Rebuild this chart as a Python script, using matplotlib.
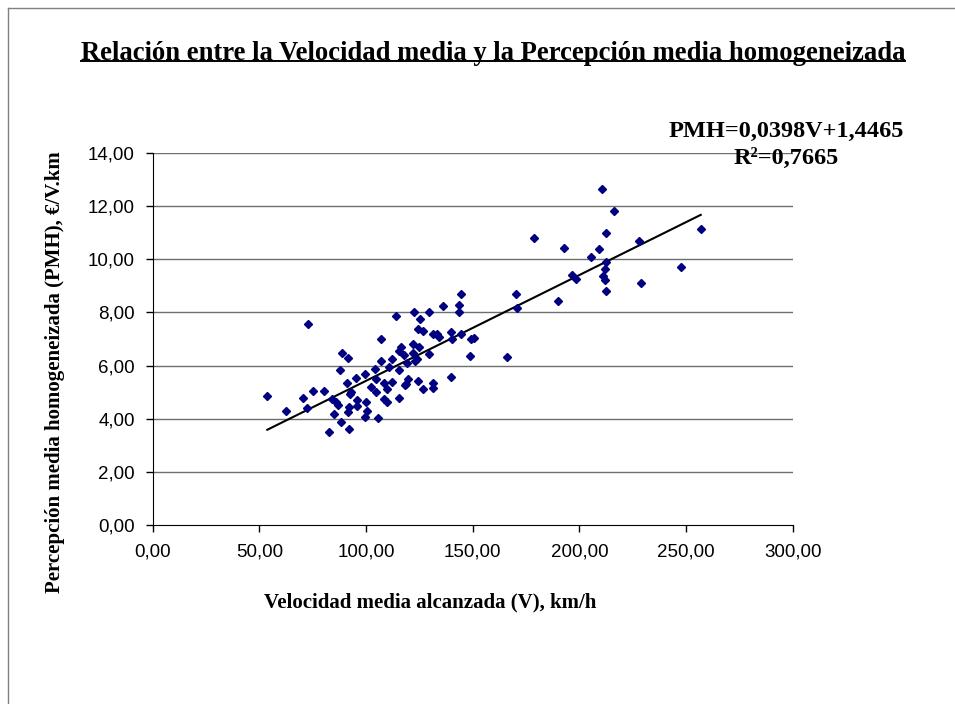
import matplotlib
matplotlib.use("Agg")
import matplotlib.pyplot as plt
import numpy as np
from matplotlib.lines import Line2D
from matplotlib.ticker import FuncFormatter

# Velocidad media (km/h) y PMH (€/V.km)
velocidad = [
    53.7, 72.9, 62.5, 70.6, 72.5, 75.3, 80.4, 82.8, 84.2, 85.1,
    85.9, 86.9, 88.1, 88.7, 87.8, 91.4, 92.2, 91.2, 92.5, 93.1,
    92.2, 91.5, 95.3, 95.6, 95.6, 99.5, 100.0, 100.6, 99.5, 105.5,
    102.3, 104.5, 104.3, 107.0, 107.0, 108.6, 109.7, 108.4, 109.7, 104.5,
    112.0, 112.0, 114.0, 115.6, 115.6, 115.6, 110.9, 116.4, 117.9, 119.1,
    119.8, 118.7, 118.3, 121.9, 125.0, 121.9, 123.8, 123.0, 122.6, 125.3,
    124.5, 126.8, 129.7, 129.7, 124.5, 126.8, 131.3, 131.5, 131.3, 133.1,
    134.3, 136.2, 143.7, 143.7, 144.5, 139.8, 140.3, 144.5, 149.2, 150.7,
    148.9, 139.8, 166.1, 170.3, 170.6, 178.9, 190.0, 192.8, 196.6, 198.4,
    205.6, 209.1, 210.5, 211.2, 212.0, 212.3, 212.2, 212.5, 212.3, 216.1,
    228.0, 228.8, 247.8, 256.9,
]
pmh = [
    4.86, 7.55, 4.28, 4.79, 4.39, 5.03, 5.03, 3.50, 4.73, 4.17,
    4.62, 4.53, 3.88, 6.46, 5.83, 6.30, 3.62, 5.33, 4.93, 5.02,
    4.43, 4.26, 5.52, 4.72, 4.47, 5.68, 4.63, 4.30, 4.08, 4.02,
    5.18, 4.99, 5.87, 7.00, 6.18, 5.33, 5.12, 4.75, 4.63, 5.48,
    6.24, 5.37, 7.87, 6.55, 5.83, 4.79, 5.96, 6.71, 6.40, 6.09,
    5.49, 5.31, 5.26, 6.80, 6.70, 6.46, 6.26, 6.17, 8.01, 7.74,
    7.39, 7.31, 8.01, 6.44, 5.42, 5.11, 5.36, 5.14, 7.18, 7.18,
    7.08, 8.25, 8.29, 8.01, 8.68, 7.28, 7.00, 7.20, 7.00, 7.05,
    6.35, 5.58, 6.31, 8.68, 8.16, 10.79, 8.42, 10.44, 9.40, 9.26,
    10.09, 10.40, 12.66, 9.37, 9.22, 8.81, 9.65, 9.90, 10.99, 11.81,
    10.68, 9.11, 9.70, 11.14,
]

# recta de tendencia: PMH = 0,0398 V + 1,4465
pendiente = 0.0398
ordenada = 1.4465
r2 = 0.7665

x_ticks = [0, 50, 100, 150, 200, 250, 300]
y_ticks = [0, 2, 4, 6, 8, 10, 12, 14]


def coma(v, p=None, dec=2):
    return f"{v:.{dec}f}".replace(".", ",")


fig = plt.figure(figsize=(9.55, 7.04), dpi=100)
ax = fig.add_axes([0.160, 0.2543, 0.670, 0.5284])

for yv in y_ticks[1:]:
    ax.axhline(yv, color="#6e6e6e", lw=1.0, zorder=1)

ax.plot(velocidad, pmh, linestyle="none", marker="D", ms=4.0,
        color="#000080", zorder=3)

xl = np.array([min(velocidad), max(velocidad)])
ax.plot(xl, pendiente * xl + ordenada, color="black", lw=1.5, zorder=2)

ax.set_xlim(0, 300)
ax.set_ylim(0, 14)
ax.set_xticks(x_ticks)
ax.set_yticks(y_ticks)
ax.xaxis.set_major_formatter(FuncFormatter(coma))
ax.yaxis.set_major_formatter(FuncFormatter(coma))
ax.tick_params(direction="out", length=5, width=1, color="black",
               labelsize=13.5, pad=8)
for lab in ax.get_xticklabels() + ax.get_yticklabels():
    lab.set_family("Liberation Sans")

ax.spines["top"].set_visible(False)
ax.spines["right"].set_visible(False)
ax.spines["left"].set_color("black")
ax.spines["bottom"].set_color("black")

serif = "Liberation Serif"
titulo = fig.text(493 / 955, 1 - 53 / 704,
                  "Relación entre la Velocidad media y la Percepción media homogeneizada",
                  ha="center", va="center", family=serif, weight="bold", fontsize=19.2)

# subrayado del titulo, del ancho del texto
fig.canvas.draw()
bb = titulo.get_window_extent().transformed(fig.transFigure.inverted())
fig.add_artist(Line2D([bb.x0, bb.x1], [bb.y0 + 0.006, bb.y0 + 0.006],
                      color="black", lw=1.4))

ecuacion = f"PMH={coma(pendiente, dec=4)}V+{coma(ordenada, dec=4)}"
fig.text(786 / 955, 1 - 131 / 704, ecuacion,
         ha="center", va="center", family=serif, weight="bold", fontsize=17.5)
fig.text(786 / 955, 1 - 158 / 704, "R²=" + coma(r2, dec=4),
         ha="center", va="center", family=serif, weight="bold", fontsize=17.5)

fig.text(430 / 955, 1 - 602 / 704, "Velocidad media alcanzada (V), km/h",
         ha="center", va="center", family=serif, weight="bold", fontsize=15)
fig.text(55 / 955, 1 - 372 / 704, "Percepción media homogeneizada (PMH), €/V.km",
         ha="center", va="center", rotation=90, family=serif, weight="bold",
         fontsize=15)

# marco exterior
fig.add_artist(Line2D([8 / 955, 1.0], [1 - 8 / 704, 1 - 8 / 704], color="#808080", lw=1))
fig.add_artist(Line2D([8 / 955, 8 / 955], [0.0, 1 - 8 / 704], color="#808080", lw=1))

fig.savefig("out.png", dpi=100)
